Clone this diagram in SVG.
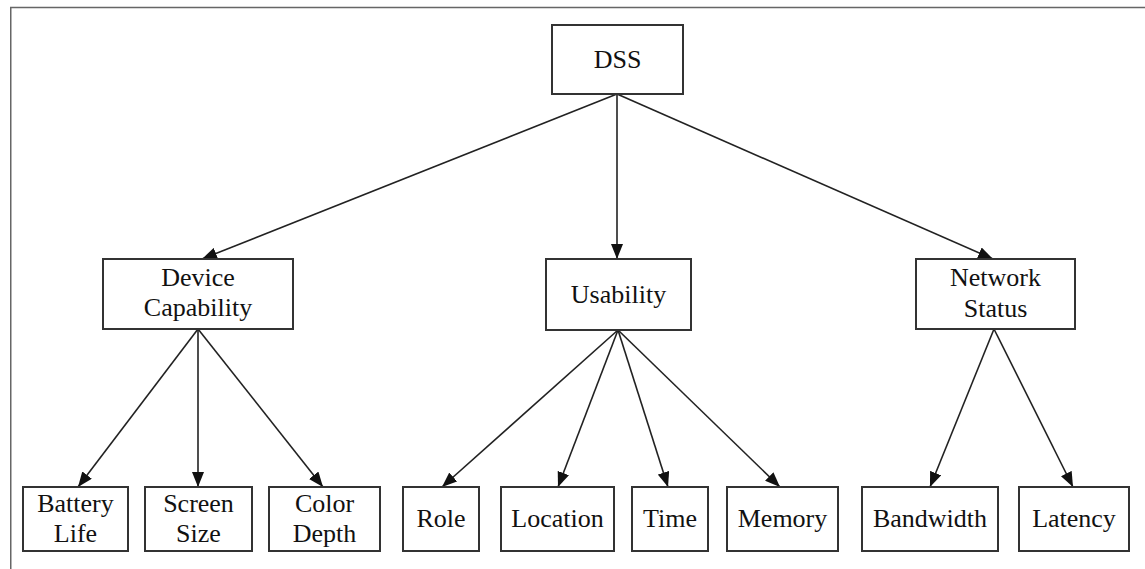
<svg xmlns="http://www.w3.org/2000/svg" width="1145" height="569" viewBox="0 0 1145 569">
<style>
.box{fill:#fff;stroke:#333;stroke-width:2}
.lbl{font-size:26px;fill:#111;text-anchor:middle}
.edge{stroke:#222;stroke-width:1.6;fill:none;marker-end:url(#arr)}
.frame{stroke:#666;stroke-width:1.5;fill:none}
</style>
<defs>
<marker id="arr" markerUnits="userSpaceOnUse" markerWidth="16" markerHeight="12" refX="15" refY="6" orient="auto">
<path d="M0,0 L15,6 L0,12 Z" fill="#111"/>
</marker>
</defs>
<rect width="1145" height="569" fill="#fff"/>
<path class="frame" d="M10.75,569 V7.5 H1145"/>
<g id="connectors">
<line class="edge" x1="617" y1="94" x2="202" y2="259"/>
<line class="edge" x1="617" y1="94" x2="617" y2="259"/>
<line class="edge" x1="617" y1="94" x2="993" y2="259"/>
<line class="edge" x1="198" y1="329" x2="78" y2="487"/>
<line class="edge" x1="198" y1="329" x2="198" y2="487"/>
<line class="edge" x1="198" y1="329" x2="323" y2="487"/>
<line class="edge" x1="618" y1="330" x2="442" y2="487"/>
<line class="edge" x1="618" y1="330" x2="558" y2="487"/>
<line class="edge" x1="618" y1="330" x2="668" y2="487"/>
<line class="edge" x1="618" y1="330" x2="780" y2="487"/>
<line class="edge" x1="994" y1="329" x2="930" y2="487"/>
<line class="edge" x1="994" y1="329" x2="1073" y2="487"/>
</g>
<g font-family="Liberation Serif, Times New Roman, serif">
<g id="dss"><rect class="box" x="552" y="25" width="131" height="69"/><text class="lbl" x="617.5" y="68">DSS</text></g>
<g id="device"><rect class="box" x="103" y="259" width="190" height="70"/><text class="lbl" x="198" y="286">Device</text><text class="lbl" x="198" y="316">Capability</text></g>
<g id="usability"><rect class="box" x="546" y="259" width="145" height="71"/><text class="lbl" x="618.5" y="303">Usability</text></g>
<g id="network"><rect class="box" x="916" y="259" width="159" height="70"/><text class="lbl" x="995.5" y="286">Network</text><text class="lbl" x="995.5" y="317">Status</text></g>
<g id="battery"><rect class="box" x="23" y="487" width="105" height="64"/><text class="lbl" x="75.5" y="512">Battery</text><text class="lbl" x="75.5" y="542">Life</text></g>
<g id="screen"><rect class="box" x="145" y="487" width="107" height="64"/><text class="lbl" x="198.5" y="512">Screen</text><text class="lbl" x="198.5" y="542">Size</text></g>
<g id="color"><rect class="box" x="269" y="487" width="111" height="64"/><text class="lbl" x="324.5" y="512">Color</text><text class="lbl" x="324.5" y="542">Depth</text></g>
<g id="role"><rect class="box" x="403" y="487" width="76" height="64"/><text class="lbl" x="441" y="527">Role</text></g>
<g id="location"><rect class="box" x="501" y="487" width="113" height="64"/><text class="lbl" x="557.5" y="527">Location</text></g>
<g id="time"><rect class="box" x="632" y="487" width="76" height="64"/><text class="lbl" x="670" y="527">Time</text></g>
<g id="memory"><rect class="box" x="727" y="487" width="111" height="64"/><text class="lbl" x="782.5" y="527">Memory</text></g>
<g id="bandwidth"><rect class="box" x="862" y="487" width="136" height="64"/><text class="lbl" x="930" y="527">Bandwidth</text></g>
<g id="latency"><rect class="box" x="1019" y="487" width="110" height="64"/><text class="lbl" x="1074" y="527">Latency</text></g>
</g>
</svg>
